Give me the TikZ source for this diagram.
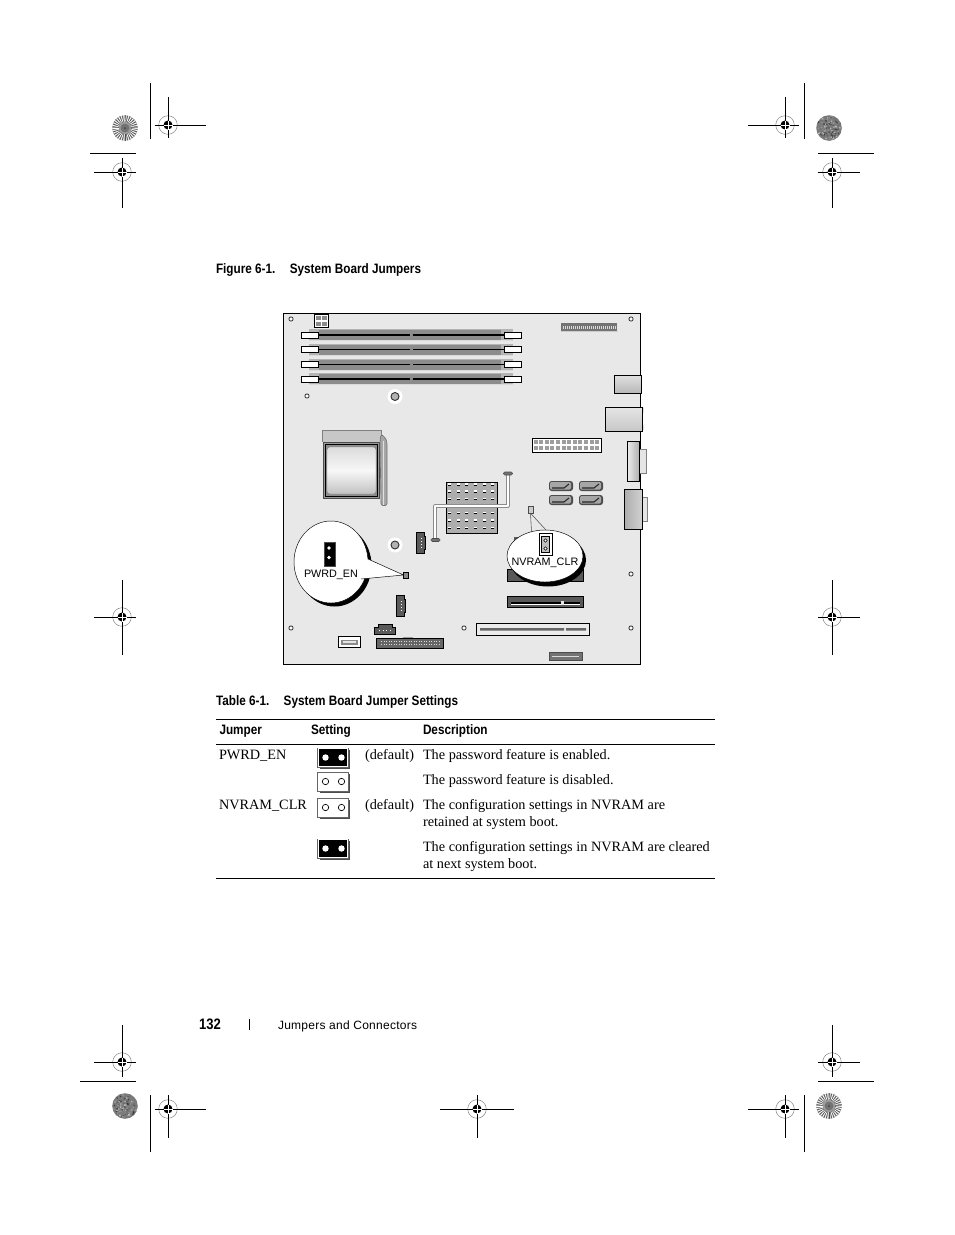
\documentclass[tikz,border=0pt]{standalone}
\usepackage{fontspec}
\setmainfont{Liberation Serif}
\newfontfamily\hdfont[FakeStretch=0.86]{Liberation Sans}
\newfontfamily\ftfont[LetterSpace=2.2]{Liberation Sans}
\newfontfamily\lblfont{Liberation Sans}
\definecolor{boardc}{HTML}{E8E8E8}
\definecolor{slotc}{HTML}{8C8C8C}
\definecolor{slotl}{HTML}{B4B4B4}
\definecolor{connc}{HTML}{5A5A5A}
\tikzset{
  txtbase/.style={anchor=base west,inner sep=0pt,outer sep=0pt},
  heading/.style={txtbase,font=\hdfont\bfseries\fontsize{10.25pt}{12pt}\selectfont},
  bodytxt/.style={txtbase,font=\fontsize{10.7pt}{13pt}\selectfont},
  foottxt/.style={txtbase,font=\ftfont\fontsize{9pt}{11pt}\selectfont},
  labeltxt/.style={inner sep=0pt,outer sep=0pt,font=\lblfont\fontsize{8.1pt}{10pt}\selectfont},
  markline/.style={black,line width=0.75pt},
  rule/.style={black,line width=0.7pt},
  hair/.style={black,line width=0.5pt},
  hole/.style={fill=white,draw=black!80,line width=0.6pt},
  bigconn/.style={fill=connc,draw=black,line width=0.6pt},
}
\newcommand{\regmark}[6]{%
  \draw[gray,line width=0.35pt] (#1,#2) circle[radius=9.3];
  \draw[markline] (#3,#2) -- (#4,#2) (#1,#5) -- (#1,#6);
  \fill[black] (#1,#2) circle[radius=4.5];
  \draw[white,line width=0.3pt] (#1-4.5,#2) -- (#1+4.5,#2) (#1,#2-4.5) -- (#1,#2+4.5);
}
\newcommand{\burstdisk}[2]{%
  \fill[gray!75] (#1,#2) circle[radius=12.8];
  \begin{scope}
    \clip (#1,#2) circle[radius=12.8];
    \foreach \a in {0,12,...,348}{
      \draw[white,line width=0.55pt] ({#1+6.5*cos(\a)},{#2+6.5*sin(\a)}) -- ({#1+13*cos(\a)},{#2+13*sin(\a)});
      \draw[black!70,line width=0.4pt] ({#1+6*cos(\a+6)},{#2+6*sin(\a+6)}) -- ({#1+13*cos(\a+6)},{#2+13*sin(\a+6)});
    }
  \end{scope}
  \fill[gray!90!black] (#1,#2) circle[radius=4.5];
  \fill[black!75] (#1,#2) circle[radius=1];
}
\newcommand{\noisedisk}[2]{%
  \fill[black!52] (#1,#2) circle[radius=12.8];
  \foreach \n in {1,...,110}{
    \pgfmathsetmacro{\rr}{12*sqrt(rnd)}
    \pgfmathsetmacro{\aa}{360*rnd}
    \pgfmathsetmacro{\cc}{20+60*rnd}
    \fill[black!\cc] ({#1+\rr*cos(\aa)},{#2+\rr*sin(\aa)}) circle[radius=0.9];
  }
}
\newcommand{\dimm}[1]{%
  \fill[slotl] (309,#1-6) rectangle (513,#1+6);
  \fill[slotc] (319,#1-5) rectangle (501,#1+5);
  \fill[slotl!50!white] (309,#1+5) rectangle (513,#1+6);
  \draw[black,line width=0.9pt] (319,#1) -- (410,#1) (412.5,#1) -- (504,#1);
  \draw[fill=white,draw=black,line width=0.6pt] (301.5,#1-3) rectangle (318.5,#1+3);
  \draw[fill=white,draw=black,line width=0.6pt] (504.5,#1-3) rectangle (521.5,#1+3);
}
\newcommand{\smallhole}[2]{\draw[hole] (#1,#2) circle[radius=2.1];}
\newcommand{\bighole}[2]{%
  \fill[white] (#1,#2) circle[radius=7.5];
  \draw[fill=black!30,draw=black!80,line width=0.7pt] (#1,#2) circle[radius=4];
}
\newcommand{\sata}[2]{%
  \fill[black!70,rounded corners=2pt] (#1,#2) rectangle (#1+24,#2+10);
  \fill[black!35,rounded corners=1pt] (#1+1,#2+1) rectangle (#1+22,#2+8.5);
  \draw[black!85,line width=0.8pt] (#1+3,#2+7) -- (#1+15,#2+7) -- (#1+20,#2+3);
}
\newcommand{\setjumper}[3]{%
  \fill[black!70] (#1+2,#2+2) rectangle (#1+32,#2+21);
  \ifnum#3=1
    \draw[fill=black,draw=black!60,line width=0.5pt] (#1,#2) rectangle (#1+30.5,#2+19);
    \draw[white,line width=0.5pt] (#1+0.8,#2+0.8) rectangle (#1+29.7,#2+18.2);
    \fill[white] (#1+8,#2+9.5) circle[radius=3.2] (#1+24,#2+9.5) circle[radius=3.2];
  \else
    \draw[fill=white,draw=black!60,line width=0.5pt] (#1,#2) rectangle (#1+30.5,#2+19);
    \draw[black,line width=0.5pt] (#1+8,#2+9.5) circle[radius=3.2] (#1+24,#2+9.5) circle[radius=3.2];
  \fi
}
\begin{document}
\begin{tikzpicture}[x=0.75pt,y=-0.75pt]
\useasboundingbox[fill=white] (0,0) rectangle (954,1235);
\pgfmathsetseed{7}
% ---- printer marks
\burstdisk{125}{128}
\noisedisk{829}{128}
\noisedisk{125}{1106}
\burstdisk{829}{1106}
\draw[markline] (150,83) -- (150,139) (804,83) -- (804,139) (90,153) -- (136,153) (818,153) -- (874,153);
\draw[markline] (80,1081) -- (136,1081) (818,1081) -- (874,1081) (150,1095) -- (150,1152) (804,1095) -- (804,1152);
\regmark{168}{125}{155}{206}{97}{138}
\regmark{122}{172}{94}{136}{158}{208}
\regmark{785}{125}{748}{799}{97}{138}
\regmark{832}{172}{818}{860}{158}{208}
\regmark{122}{617}{94}{136}{580}{655}
\regmark{832}{617}{818}{860}{580}{655}
\regmark{122}{1062}{94}{136}{1025}{1077}
\regmark{832}{1062}{818}{860}{1025}{1077}
\regmark{168}{1109}{155}{206}{1095}{1138}
\regmark{477}{1109}{440}{514}{1095}{1138}
\regmark{785}{1109}{748}{799}{1095}{1138}
% ---- headings
\node[heading] (figcap) at (216,273) {Figure 6-1.\hspace{1.05em}System Board Jumpers};
\node[heading] (tabcap) at (216,705) {Table 6-1.\hspace{1.05em}System Board Jumper Settings};
% ---- board
\draw[fill=boardc,draw=black,line width=0.6pt] (283,313) rectangle (640,664);
\dimm{335}\dimm{349.7}\dimm{364.5}\dimm{379}
% 4-pin power
\draw[fill=white,draw=black,line width=0.6pt] (314.5,314.5) rectangle (328,327.5);
\foreach \px/\py in {316/316,322/316,316/322,322/322}{\fill[black!45] (\px,\py) rectangle (\px+4.5,\py+4.3);}
% top IDE
\fill[black!55] (561,323) rectangle (617,331);
\fill[black!20] (561,331) rectangle (618,332);
\foreach \i in {0,...,26}{\fill[black!15] (563+\i*2,326) rectangle (564+\i*2,329);}
% holes
\smallhole{291}{319}\smallhole{631}{319}\smallhole{307}{396}
\smallhole{631}{574}\smallhole{631}{628}\smallhole{291}{628}\smallhole{464}{628}
\bighole{395}{396.5}\bighole{395}{545}
% back panel
\shade[top color=black!12,bottom color=black!28,draw=black,line width=0.6pt] (614.5,375) rectangle (641,393);
\shade[top color=black!10,bottom color=black!22,draw=black,line width=0.6pt] (605.5,407) rectangle (642,431);
\fill[black] (642,407.5) rectangle (643.2,413) (642,425) rectangle (643.2,430);
\draw[fill=black!10,draw=black!50,line width=0.5pt] (639,449) rectangle (646.5,473);
\shade[left color=black!8,right color=black!32,draw=black,line width=0.6pt] (627.5,441) rectangle (639.5,481.5);
\draw[fill=black!10,draw=black!50,line width=0.5pt] (642,497) rectangle (647.5,521);
\shade[left color=black!32,right color=black!18,draw=black,line width=0.6pt] (624.5,489) rectangle (642,529);
% 24-pin
\draw[fill=white,draw=black,line width=0.7pt] (532,438.5) rectangle (601,452);
\foreach \i in {0,...,11}{
  \fill[black!38] (533.5+\i*5.6,440) rectangle (537.5+\i*5.6,444.3);
  \fill[black!38] (533.5+\i*5.6,445.7) rectangle (537.5+\i*5.6,450);
}
% sata
\sata{549}{481}\sata{579}{481}\sata{549}{495}\sata{579}{495}
% cpu
\fill[black!22] (322,430) rectangle (381,442);
\draw[black!50,line width=0.4pt] (322,442) -- (322,430) -- (381,430) -- (381,435);
\draw[fill=black!40,draw=black!70,line width=0.5pt] (323,442) rectangle (379,498);
\draw[fill=black!45,draw=black,line width=0.5pt] (325,444) rectangle (377,496);
\shade[top color=black!14,bottom color=black!24,middle color=black!3,draw=black!50,line width=0.35pt,rounded corners=2pt] (327,447) rectangle (376,494);
\draw[fill=black!35,draw=black!55,line width=0.5pt,rounded corners=1.5pt] (380,441) -- (381,434.5) -- (385,437) -- (387,442) -- (387,505.5) -- (381,505.5) -- cycle;
\fill[black!12] (382.5,441) rectangle (384,505);
% heatsink
\draw[fill=black!32,draw=black,line width=0.7pt] (446.5,482.5) rectangle (497,533);
\foreach \r in {484.5,491.5,499,513,520.5,528}{
  \foreach \c in {449,458,466.5,475,484,492.7}{
    \fill[white] (\c-1.5,\r-1.5) rectangle (\c+1.5,\r);
    \fill[black] (\c-1.5,\r) rectangle (\c+1.5,\r+1.2);
  }
}
% pipe
\draw[black!45,line width=2.4pt,line join=round] (435,539) -- (435,506) -- (508,506) -- (508,474);
\draw[white,line width=1.1pt,line join=round] (435,539) -- (435,506) -- (508,506) -- (508,474);
\draw[fill=black!55,draw=black!70,line width=0.4pt,rounded corners=1pt] (503.5,472) rectangle (512.5,475);
\draw[fill=black!55,draw=black!70,line width=0.4pt,rounded corners=1pt] (431,538.5) rectangle (440,541.5);
% small connectors
\draw[bigconn] (416.5,532.5) -- (424,532.5) -- (424,536) -- (425.5,536) -- (425.5,549) -- (424,549) -- (424,553) -- (416.5,553) -- cycle;
\draw[bigconn] (396.5,595.5) -- (404,595.5) -- (404,599) -- (405.5,599) -- (405.5,612) -- (404,612) -- (404,616) -- (396.5,616) -- cycle;
\draw[bigconn] (374.5,627) -- (378,627) -- (378,624.5) -- (392,624.5) -- (392,627) -- (395.5,627) -- (395.5,634) -- (374.5,634) -- cycle;
\foreach \i in {0,...,3}{
  \fill[white] (420.5,538+\i*3) rectangle (421.5,539+\i*3);
  \fill[white] (400.5,601+\i*3) rectangle (401.5,602+\i*3);
  \fill[white] (379+\i*3.5,630) rectangle (380+\i*3.5,631);
}
\draw[fill=white,draw=black,line width=0.6pt] (338.5,636.5) rectangle (360.5,647.5);
\fill[black!45] (341,640) rectangle (358,645);
\fill[black!10] (343,641) rectangle (356,642.5);
% bottom IDE
\fill[black!40] (403,636.5) rectangle (413,638.5);
\draw[fill=black!60,draw=black,line width=0.7pt] (376,638.5) rectangle (443,648.5);
\foreach \i in {0,...,23}{
  \fill[black!15] (381+\i*2.5,641) rectangle (382+\i*2.5,642);
  \fill[black!15] (381+\i*2.5,644) rectangle (382+\i*2.5,645);
}
% slots
\draw[fill=black!65,draw=black,line width=0.6pt] (507.5,569.5) rectangle (583,581);
\draw[fill=black!65,draw=black,line width=0.6pt] (507.5,596.5) rectangle (583,607.5);
\draw[black,line width=1pt] (511,603) -- (580,603);
\draw[white,line width=0.5pt] (511,604.2) -- (580,604.2);
\fill[black!10] (561,601) rectangle (564,605);
\draw[fill=black!8,draw=black,line width=0.6pt] (476,623.5) rectangle (589.5,635);
\fill[black!60] (480,628) rectangle (564,630.5) (566,628) rectangle (586,630.5);
\draw[fill=black!55,draw=black!70,line width=0.5pt] (549.5,652.5) rectangle (582.5,660.5);
\fill[black!15] (552,656) rectangle (579,657);
\fill[connc] (514,537) rectangle (520,541);
% NVRAM callout
\fill[black] (548,560) ellipse[x radius=38,y radius=26.5];
\draw[fill=white,draw=black,line width=0.35pt] (545,556) ellipse[x radius=38,y radius=26];
\node[draw=black!70,line width=0.4pt,fill=black!20,minimum width=3.4pt,minimum height=5.2pt,inner sep=0pt] (nvsmall) at (530.5,509.5) {};
\coordinate (nvedgea) at (531.5,532);
\coordinate (nvedgeb) at (546,530);
\draw[black!70,line width=0.4pt] (nvsmall.south) -- (nvedgea) (nvsmall.south) -- (nvedgeb);
\node[draw=black,line width=0.7pt,fill=white,minimum width=9.7pt,minimum height=16.5pt,inner sep=0pt] (nvjumper) at (545.5,544) {};
\draw[fill=black!25,draw=black,line width=0.35pt] (541.5,536.5) rectangle (549.5,552);
\draw[fill=white,draw=black,line width=0.4pt] (545.5,540.5) circle[radius=1.8] (545.5,548.5) circle[radius=1.8];
\node[labeltxt] (nvlabel) at (545,563) {NVRAM\_CLR};
% PWRD callout
\fill[black] (334.5,565.5) ellipse[x radius=37,y radius=41];
\coordinate (pwa) at (368,559);
\coordinate (pwb) at (361,579);
\node[draw=black,line width=0.6pt,fill=black!45,minimum width=3.2pt,minimum height=4.5pt,inner sep=0pt] (pwsmall) at (406,575) {};
\draw[fill=white,draw=black,line width=0.35pt] (331,562) ellipse[x radius=37,y radius=41];
\fill[white] (pwa) -- (pwsmall.west) -- (pwb) -- (345,570) -- cycle;
\draw[black,line width=0.35pt] (pwa) -- (pwsmall.west) -- (pwb);
\node[draw=black!70,line width=0.5pt,fill=black,minimum width=8.2pt,minimum height=18pt,inner sep=0pt] (pwjumper) at (329.5,554) {};
\fill[white] (329,548) circle[radius=1.8] (329,557.5) circle[radius=1.8];
\node[labeltxt] (pwlabel) at (331,574.5) {PWRD\_EN};
% ---- table
\draw[rule] (216,719.5) -- (715,719.5);
\draw[rule] (216,744.5) -- (715,744.5);
\draw[rule] (216,878.5) -- (715,878.5);
\node[heading] (hjumper) at (219.5,734) {Jumper};
\node[heading] (hsetting) at (311,734) {Setting};
\node[heading] (hdesc) at (423,734) {Description};
\setjumper{317.5}{748}{1}
\setjumper{317.5}{772}{0}
\setjumper{317.5}{798}{0}
\setjumper{317.5}{839}{1}
\node[bodytxt] (t1) at (219,759) {PWRD\_EN};
\node[bodytxt] (t2) at (219,809) {NVRAM\_CLR};
\node[bodytxt] (d1) at (365,759) {(default)};
\node[bodytxt] (d2) at (365,809) {(default)};
\node[bodytxt] (r1) at (423,759) {The password feature is enabled.};
\node[bodytxt] (r2) at (423,784) {The password feature is disabled.};
\node[bodytxt] (r3) at (423,809) {The configuration settings in NVRAM are};
\node[bodytxt] (r4) at (423,826) {retained at system boot.};
\node[bodytxt] (r5) at (423,851) {The configuration settings in NVRAM are cleared};
\node[bodytxt] (r6) at (423,868) {at next system boot.};
% ---- footer
\node[txtbase,font=\hdfont\bfseries\fontsize{11.4pt}{13pt}\selectfont] (pageno) at (199,1029) {132};
\draw[black,line width=0.5pt] (249,1019) -- (249,1030);
\node[foottxt] (foot) at (278,1029) {Jumpers and Connectors};
\end{tikzpicture}
\end{document}
